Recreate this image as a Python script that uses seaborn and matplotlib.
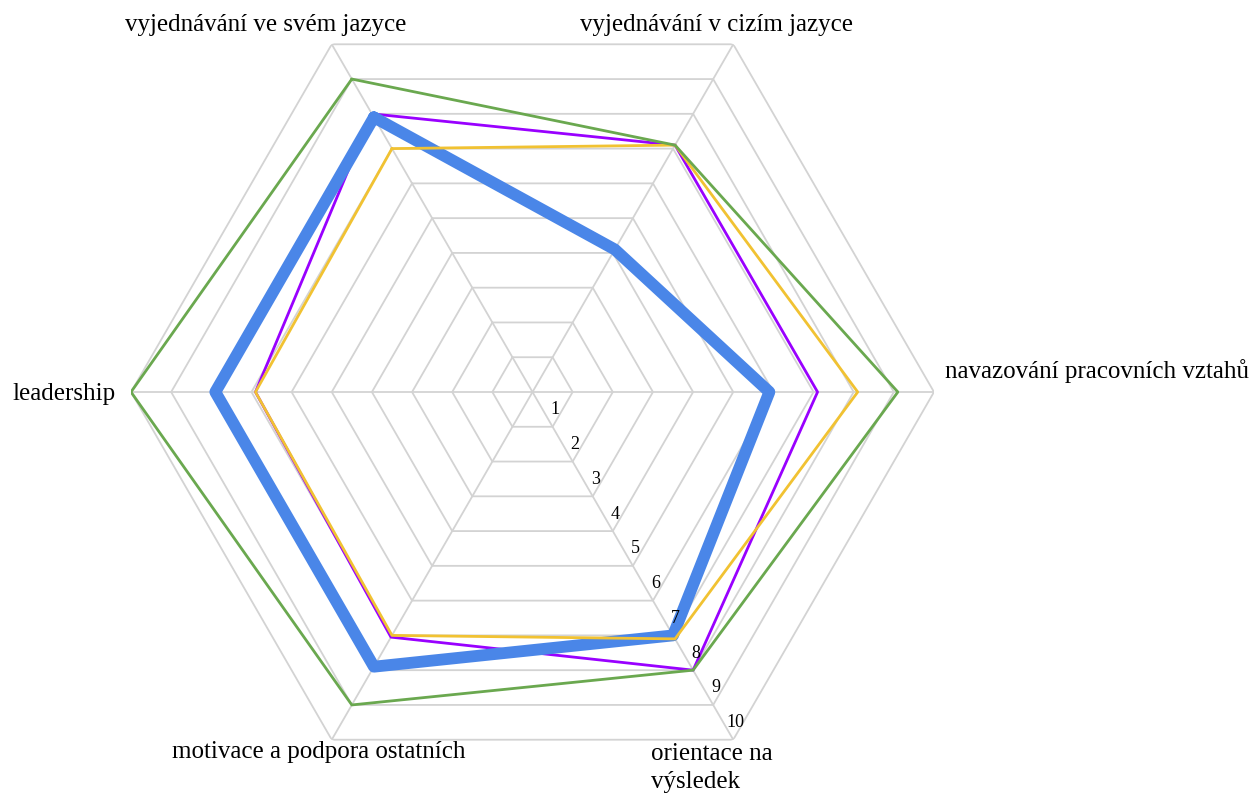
import numpy as np
import matplotlib
matplotlib.use("Agg")
import matplotlib.pyplot as plt
import seaborn as sns
import pandas as pd

# ---- data ----
categories = ["vyjednávání ve svém jazyce", "vyjednávání v cizím jazyce",
              "navazování pracovních vztahů", "orientace na\nvýsledek",
              "motivace a podpora ostatních", "leadership"]
green = [9.0, 7.1, 9.1, 8.0, 9.0, 10.0]
purple = [8.0, 7.1, 7.1, 8.0, 7.05, 6.9]
yellow = [7.0, 7.1, 8.1, 7.1, 7.0, 6.9]
blue = [7.9, 4.1, 5.9, 7.0, 7.9, 7.9]
tick_values = [1, 2, 3, 4, 5, 6, 7, 8, 9, 10]

sns.set_theme(style="white")
plt.rcParams["font.family"] = ["Liberation Serif", "DejaVu Serif"]

W, H = 1254, 796
fig = plt.figure(figsize=(W / 100, H / 100), dpi=100)
fig.patch.set_facecolor("white")

cx, cy, R = 532.5, 392.0, 401.5
ax = fig.add_axes([(cx - R) / W, (H - cy - R) / H, 2 * R / W, 2 * R / H],
                  projection="polar")
ax.set_theta_offset(2 * np.pi / 3)
ax.set_theta_direction(-1)
ax.set_ylim(0, 10)
ax.grid(False)
ax.spines["polar"].set_visible(False)
ax.set_xticks([])
ax.set_yticks([])
ax.set_facecolor("none")

n = len(categories)
theta = np.arange(n) * 2 * np.pi / n
theta_c = np.append(theta, 2 * np.pi)

grid_col = "#d3d3d3"
for k in tick_values:
    ax.plot(theta_c, [k] * (n + 1), color=grid_col, lw=1.3, zorder=1)
for t in theta:
    ax.plot([t, t], [0, tick_values[-1]], color=grid_col, lw=1.3, zorder=1)

series = [
    ("purple", purple, "#9900ff", 2.0),
    ("blue", blue, "#4a86e8", 8.5),
    ("yellow", yellow, "#f1c232", 2.0),
    ("green", green, "#6aa84f", 2.0),
]
for name, vals, col, lw in series:
    df = pd.DataFrame({"theta": theta_c, "value": list(vals) + [vals[0]]})
    sns.lineplot(data=df, x="theta", y="value", sort=False, estimator=None,
                 color=col, lw=lw, ax=ax, zorder=3, legend=False)
ax.set_xlabel("")
ax.set_ylabel("")
ax.set_ylim(0, 10)
ax.set_xticks([])
ax.set_yticks([])

# radial tick labels along "orientace" axis
for k in tick_values:
    ax.annotate(str(k), xy=(theta[3], k), xytext=(2.5, 17),
                textcoords="offset pixels", ha="center", va="center",
                fontsize=13, color="#000000", zorder=5)

# category labels
fs = 18
def ftext(x, y, s, **kw):
    fig.text(x / W, 1 - y / H, s, fontsize=fs, color="#000000",
             va="baseline", **kw)

ftext(266, 31.5, categories[0], ha="center")
ftext(716, 31.5, categories[1], ha="center")
ftext(945, 378, categories[2], ha="left")
ftext(651, 760, "orientace na", ha="left")
ftext(651, 788, "výsledek", ha="left")
ftext(318.5, 758, categories[4], ha="center")
ftext(116, 400, categories[5], ha="right")

fig.savefig("out.png", dpi=100, facecolor="white")
